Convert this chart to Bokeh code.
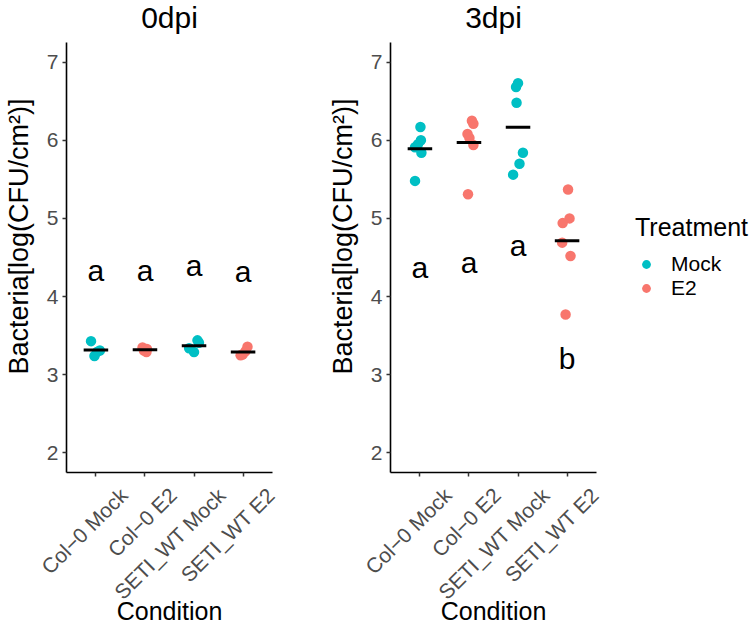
import numpy as np
from bokeh.plotting import figure
from bokeh.layouts import row
from bokeh.models import FixedTicker, Range1d, Legend, LegendItem, ColumnDataSource, LinearAxis
from bokeh.embed import file_html
from bokeh.resources import INLINE
from bokeh.core.properties import value

# ---------------- data ----------------
conditions = ["Col−0 Mock", "Col−0 E2", "SETI_WT Mock", "SETI_WT E2"]
treatments = ["Mock", "E2", "Mock", "E2"]
panel_titles = ["0dpi", "3dpi"]
legend_title = "Treatment"
legend_labels = ["Mock", "E2"]

dpi0_values = [
    [3.43, 3.31, 3.29, 3.24],
    [3.35, 3.33, 3.31, 3.29],
    [3.44, 3.41, 3.34, 3.29],
    [3.36, 3.30, 3.26, 3.25],
]
dpi0_jitter = [
    [-0.10, 0.08, 0.02, -0.03],
    [-0.05, 0.04, -0.02, 0.03],
    [0.07, 0.10, -0.10, 0.00],
    [0.09, 0.05, -0.01, -0.05],
]
dpi0_letters = ["a", "a", "a", "a"]
dpi0_letter_y = [4.34, 4.34, 4.40, 4.32]

dpi3_values = [
    [6.17, 6.00, 5.95, 5.91, 5.84, 5.48],
    [6.25, 6.21, 6.08, 6.03, 5.94, 5.31],
    [6.73, 6.68, 6.48, 5.84, 5.70, 5.56],
    [5.37, 5.00, 4.94, 4.69, 4.52, 3.77],
]
dpi3_jitter = [
    [0.01, 0.02, -0.04, -0.10, 0.03, -0.10],
    [0.06, 0.09, -0.03, 0.01, 0.09, -0.02],
    [0.00, -0.04, -0.03, 0.10, 0.03, -0.10],
    [0.02, 0.05, -0.09, -0.10, 0.07, -0.03],
]
dpi3_letters = ["a", "a", "a", "b"]
dpi3_letter_y = [4.37, 4.44, 4.65, 3.21]

y_ticks = [2, 3, 4, 5, 6, 7]
colors = {"Mock": "#00BFC4", "E2": "#F8766D"}

FONT = "Liberation Sans"
X_LO, X_HI = 0.4, 4.6
Y_LO, Y_HI = 1.75, 7.25
PANEL_W = 206
PANEL_H = 430
TOP_PAD = 42          # px of frame above the y=7.25 line (holds the panel title)
TITLE_FROM_TOP = 17   # px from the top of the frame to the title centre
LABEL_SHIFT = 0.57

UNIT_PER_PX = (Y_HI - Y_LO) / PANEL_H
Y_TOP = Y_HI + TOP_PAD * UNIT_PER_PX


def make_panel(title, values, jitter, letters, letter_y, right_border):
    p = figure(
        frame_width=PANEL_W, frame_height=PANEL_H + TOP_PAD,
        x_range=Range1d(X_LO, X_HI), y_range=Range1d(Y_LO, Y_TOP),
        output_backend="svg", toolbar_location=None,
        min_border_left=66, min_border_right=right_border,
        min_border_top=0, min_border_bottom=0,
        x_axis_location=None,
    )
    p.outline_line_color = None
    p.xgrid.visible = False
    p.ygrid.visible = False
    p.background_fill_color = "white"
    p.border_fill_color = "white"

    # panel title, drawn inside the (extended) frame
    p.text(x=[(X_LO + X_HI) / 2], y=[Y_TOP - TITLE_FROM_TOP * UNIT_PER_PX], text=[title],
           text_align="center", text_baseline="middle", text_font=value(FONT),
           text_font_size="30px", text_color="black")

    renderers = {}
    for tr in legend_labels:
        xs, ys = [], []
        for i, (c, t) in enumerate(zip(conditions, treatments)):
            if t != tr:
                continue
            for v, j in zip(values[i], jitter[i]):
                xs.append(i + 1 + j)
                ys.append(v)
        src = ColumnDataSource(dict(x=xs, y=ys))
        renderers[tr] = p.scatter("x", "y", source=src, size=10.5,
                                  fill_color=colors[tr], line_color=None)

    means = [float(np.mean(v)) for v in values]
    pos = [i + 1 for i in range(len(conditions))]
    p.segment(x0=[x - 0.25 for x in pos], x1=[x + 0.25 for x in pos],
              y0=means, y1=means, line_color="black", line_width=3)

    p.text(x=pos, y=letter_y, text=letters, text_align="center",
           text_baseline="middle", text_font=value(FONT),
           text_font_size="30px", text_color="black")

    # x axis: tick marks adjacent to the frame
    tick_axis = LinearAxis(ticker=FixedTicker(ticks=pos),
                           major_label_overrides={x: "" for x in pos},
                           major_label_text_font_size="0px",
                           major_label_standoff=0)
    # x axis: rotated category labels
    lab_pos = [x + LABEL_SHIFT for x in pos]
    label_axis = LinearAxis(ticker=FixedTicker(ticks=lab_pos),
                            major_label_overrides={x: c for x, c in zip(lab_pos, conditions)},
                            major_label_orientation=np.pi / 4,
                            major_label_standoff=15,
                            axis_line_color=None, major_tick_line_color=None,
                            major_tick_out=0, major_tick_in=0,
                            axis_label="Condition", axis_label_standoff=-18)
    p.add_layout(tick_axis, "below")
    p.add_layout(label_axis, "below")

    for ax in [tick_axis, label_axis, p.yaxis[0]]:
        ax.minor_tick_line_color = None
        ax.major_label_text_font = FONT
        ax.major_label_text_color = "#4D4D4D"
        ax.axis_label_text_font = FONT
        ax.axis_label_text_font_size = "25px"
        ax.axis_label_text_font_style = "normal"
        ax.axis_label_text_color = "black"
    for ax in [tick_axis, p.yaxis[0]]:
        ax.axis_line_color = "black"
        ax.axis_line_width = 1.6
        ax.major_tick_line_color = "#333333"
        ax.major_tick_line_width = 1.5
        ax.major_tick_out = 4
        ax.major_tick_in = 0
    label_axis.major_label_text_font_size = "21px"

    p.yaxis.ticker = FixedTicker(ticks=y_ticks)
    p.yaxis.bounds = (Y_LO, Y_HI)
    p.yaxis.major_label_text_font_size = "21px"
    p.yaxis.major_label_standoff = 4
    p.yaxis.axis_label = "Bacteria[log(CFU/cm²)]"
    p.yaxis.axis_label_text_font_size = "27px"
    p.yaxis.axis_label_standoff = 10
    return p, renderers


p1, _ = make_panel(panel_titles[0], dpi0_values, dpi0_jitter, dpi0_letters, dpi0_letter_y, 52)
p2, r2 = make_panel(panel_titles[1], dpi3_values, dpi3_jitter, dpi3_letters, dpi3_letter_y, 10)

# legend panel (key glyphs sit outside its visible range)
p3 = figure(frame_width=144, frame_height=PANEL_H + TOP_PAD,
            x_range=Range1d(0, 1), y_range=Range1d(0, 1),
            x_axis_location=None, y_axis_location=None,
            output_backend="svg", toolbar_location=None,
            min_border=0, outline_line_color=None)
p3.xgrid.visible = False
p3.ygrid.visible = False
lg = {}
for tr in legend_labels:
    lg[tr] = p3.scatter(x=[-5], y=[-5], size=10.5, fill_color=colors[tr], line_color=None)

legend = Legend(
    items=[LegendItem(label=tr, renderers=[lg[tr]]) for tr in legend_labels],
    title=legend_title, location=(29, 172),
    margin=0, padding=0, spacing=0,
    label_height=24, glyph_height=24, glyph_width=22, label_standoff=14,
    title_standoff=10,
    border_line_color=None, background_fill_alpha=0,
    label_text_font=FONT, label_text_font_size="21px", label_text_color="black",
    title_text_font=FONT, title_text_font_size="25px", title_text_font_style="normal",
    title_text_color="black",
)
p3.add_layout(legend, "center")

layout = row(p1, p2, p3)
open("out.html", "w").write(file_html(layout, INLINE))
